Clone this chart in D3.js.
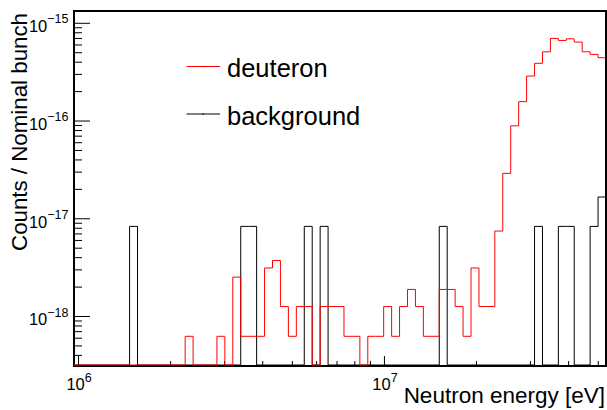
<!DOCTYPE html>
<html lang="en">
<head>
<meta charset="utf-8" />
<title>Neutron energy spectrum</title>
<style>
  body { margin: 0; background: #fff; }
  svg { display: block; }
  text { font-family: "Liberation Sans", Arial, Helvetica, sans-serif; fill: #000; }
  .hist { fill: none; stroke-width: 1px; }
</style>
<script src="https://cdn.jsdelivr.net/npm/d3@7/dist/d3.min.js"></script>
</head>
<body>
<script>
// histogram range (log-spaced bins)
var nBins = 67;
var eMin = 9.7e5, eMax = 5.32e7;

// bin contents (0 = empty bin)
var deuteron = [
  0, 0, 0, 0, 0, 0, 0, 0, 0, 0,
  0, 0, 0, 0, 6.2e-19, 0, 0, 0, 6.2e-19, 0,
  2.5e-18, 6.2e-19, 6.2e-19, 6.2e-19, 3.1e-18, 3.7e-18, 1.25e-18, 6.2e-19, 1.25e-18, 1.25e-18,
  0, 1.25e-18, 1.25e-18, 1.25e-18, 6.2e-19, 6.2e-19, 0, 6.2e-19, 6.2e-19, 1.25e-18,
  6.2e-19, 1.25e-18, 1.87e-18, 1.25e-18, 6.2e-19, 6.2e-19, 1.87e-18, 1.87e-18, 1.25e-18, 6.2e-19,
  3.1e-18, 1.25e-18, 1.25e-18, 7.4e-18, 2.88e-17, 8.83e-17, 1.56e-16, 2.85e-16, 3.85e-16, 5.05e-16,
  6.92e-16, 6.6e-16, 6.86e-16, 6.35e-16, 5.05e-16, 4.75e-16, 4.39e-16
];
var background = [
  0, 0, 0, 0, 0, 0, 0, 8.26e-18, 0, 0,
  0, 0, 0, 0, 0, 0, 0, 0, 0, 0,
  0, 8.26e-18, 8.26e-18, 0, 0, 0, 0, 0, 0, 8.26e-18,
  0, 8.26e-18, 0, 0, 0, 0, 0, 0, 0, 0,
  0, 0, 0, 0, 0, 0, 8.26e-18, 0, 0, 0,
  0, 0, 0, 0, 0, 0, 0, 0, 8.26e-18, 0,
  0, 8.26e-18, 8.26e-18, 0, 0, 8.26e-18, 1.65e-17
];

// axis ticks
var xMajor = [1e6, 1e7];
var xMajorExp = ["6", "7"];
var xMinor = [2e6, 3e6, 4e6, 5e6, 6e6, 7e6, 8e6, 9e6, 2e7, 3e7, 4e7, 5e7];
var yMajor = [1e-18, 1e-17, 1e-16, 1e-15];
var yMajorExp = ["\u221218", "\u221217", "\u221216", "\u221215"];
var yMinor = [];
[1e-19, 1e-18, 1e-17, 1e-16, 1e-15].forEach(function(d) {
  for (var k = 2; k <= 9; k++) yMinor.push(k * d);
});
var yMin = 3.08e-19, yMax = 1.32e-15;

var xTitle = "Neutron energy [eV]";
var yTitle = "Counts / Nominal bunch";
var legendNames = ["deuteron", "background"];
var legendColors = ["#ff0000", "#000000"];

// frame edges
var frame = {left: 74, right: 606, top: 11, bottom: 366};

var svg = d3.select("body").append("svg")
  .attr("width", 607)
  .attr("height", 410);

var x = d3.scaleLog().domain([eMin, eMax]).range([frame.left, frame.right]);
var y = d3.scaleLog().domain([yMin, yMax]).range([frame.bottom, frame.top]);

yMinor = yMinor.filter(function(d) { return d >= yMin && d <= yMax; });

// bin edges, evenly spaced in log
var edges = d3.range(nBins + 1).map(function(i) {
  return Math.pow(10, Math.log10(eMin) + i * (Math.log10(eMax) - Math.log10(eMin)) / nBins);
});

// frame box
svg.append("rect")
  .attr("x", frame.left).attr("y", frame.top)
  .attr("width", frame.right - frame.left).attr("height", frame.bottom - frame.top)
  .attr("fill", "none").attr("stroke", "#000").attr("stroke-width", 2);

// y ticks (inside the frame)
var yMinorAxis = svg.append("g")
  .attr("transform", "translate(" + frame.left + ",0)")
  .call(d3.axisLeft(y).tickValues(yMinor).tickSize(-8).tickFormat(""));
var yMajorAxis = svg.append("g")
  .attr("transform", "translate(" + frame.left + ",0)")
  .call(d3.axisLeft(y).tickValues(yMajor).tickSize(-16).tickFormat(""));

// x ticks
var xMinorAxis = svg.append("g")
  .attr("transform", "translate(0," + frame.bottom + ")")
  .call(d3.axisBottom(x).tickValues(xMinor).tickSize(-5).tickFormat(""));
var xMajorAxis = svg.append("g")
  .attr("transform", "translate(0," + frame.bottom + ")")
  .call(d3.axisBottom(x).tickValues(xMajor).tickSize(-10).tickFormat(""));

[yMinorAxis, yMajorAxis, xMinorAxis, xMajorAxis].forEach(function(g) {
  g.select(".domain").remove();
  g.selectAll("line").attr("stroke", "#000");
});

// power-of-ten labels
yMajor.forEach(function(d, i) {
  var t = svg.append("text")
    .attr("x", 68.5)
    .attr("y", y(d) + 9.3)
    .attr("text-anchor", "end")
    .attr("font-size", 16.5);
  t.append("tspan").text("10");
  t.append("tspan").attr("dy", -8.6).attr("font-size", 12.5).text(yMajorExp[i]);
});
xMajor.forEach(function(d, i) {
  var t = svg.append("text")
    .attr("x", x(d) + 1)
    .attr("y", 389.5)
    .attr("text-anchor", "middle")
    .attr("font-size", 16.5);
  t.append("tspan").text("10");
  t.append("tspan").attr("dy", -8).attr("font-size", 12.5).text(xMajorExp[i]);
});

// axis titles
svg.append("text")
  .attr("x", 605).attr("y", 403)
  .attr("text-anchor", "end")
  .attr("font-size", 22.5)
  .text(xTitle);
svg.append("text")
  .attr("transform", "translate(26.5,13) rotate(-90)")
  .attr("text-anchor", "end")
  .attr("font-size", 22.3)
  .text(yTitle);

// histogram outline, empty bins sit on the frame bottom
function stepPath(vals) {
  var p = d3.path();
  vals.forEach(function(v, i) {
    var yy = v > 0 ? y(v) : y(yMin) - 1;
    if (i === 0) p.moveTo(x(edges[0]), yy);
    else p.lineTo(x(edges[i]), yy);
    p.lineTo(x(edges[i + 1]), yy);
  });
  return p.toString();
}

svg.append("path")
  .attr("class", "hist")
  .attr("stroke", legendColors[1])
  .attr("d", stepPath(background));
svg.append("path")
  .attr("class", "hist")
  .attr("stroke", legendColors[0])
  .attr("d", stepPath(deuteron));

// legend
var legendY = [66.5, 114];
legendNames.forEach(function(name, i) {
  svg.append("line")
    .attr("x1", 186.5).attr("x2", 220)
    .attr("y1", legendY[i]).attr("y2", legendY[i])
    .attr("stroke", legendColors[i]).attr("stroke-width", 1);
  svg.append("rect")
    .attr("x", 202.5).attr("y", legendY[i] - 0.5)
    .attr("width", 1.5).attr("height", 1)
    .attr("fill", i === 0 ? "#800000" : "#000");
  svg.append("text")
    .attr("x", 227).attr("y", legendY[i] + 10.8)
    .attr("font-size", 25.5)
    .text(name);
});
</script>
</body>
</html>
